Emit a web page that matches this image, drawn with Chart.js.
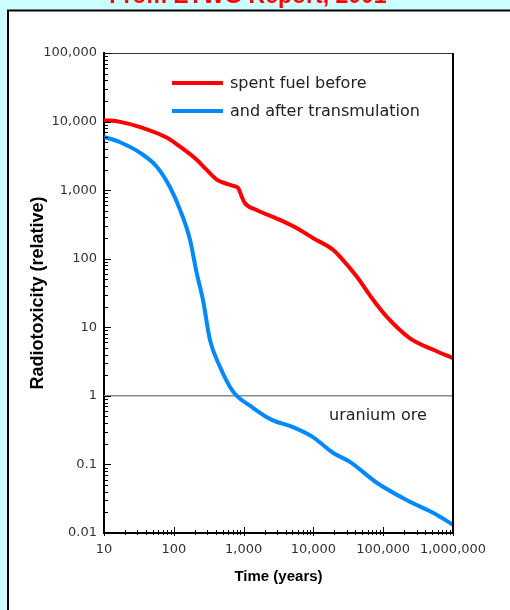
<!DOCTYPE html>
<html>
<head>
<meta charset="utf-8">
<script src="https://cdn.jsdelivr.net/npm/chart.js@4.4.1/dist/chart.umd.min.js"></script>
<style>
  html, body { margin: 0; padding: 0; background: #ccffff; overflow: hidden; }
  #wykres { display: block; }
</style>
</head>
<body>
<canvas id="wykres" width="510" height="610"></canvas>
<script>
'use strict';

/* ----------------------------------------------------------
   DANE
   ---------------------------------------------------------- */

var chartTitle = 'From ETWG Report, 2001';
var xTitle = 'Time (years)';
var yTitle = 'Radiotoxicity (relative)';
var oreLabel = 'uranium ore';

var beforeLabel = 'spent fuel before';
var beforeYears = [10, 17, 33, 80, 123, 215, 296, 418, 512, 713, 840, 940, 1047, 1540, 3320, 6430, 9980, 19300, 24000, 41700, 72100, 112000, 242000, 522000, 1000000];
var beforeValues = [10500, 9900, 8300, 5800, 4300, 2750, 1970, 1410, 1285, 1150, 1067, 803, 644, 514, 368, 263, 199, 134, 107, 55, 25, 14.3, 6.9, 4.7, 3.55];

var afterLabel = 'and after transmulation';
var afterYears = [10, 17, 33, 57, 88, 123, 171, 213, 262, 330, 459, 638, 800, 1230, 2500, 5100, 9860, 19000, 33400, 81000, 219000, 518000, 1000000];
var afterValues = [6000, 5000, 3500, 2200, 1110, 515, 188, 61.5, 25, 6.5, 2.65, 1.35, 1.0, 0.72, 0.45, 0.35, 0.25, 0.148, 0.109, 0.054, 0.030, 0.0197, 0.0132];

var oreYears = [10, 1000000];
var oreValues = [1, 1];

var xTickValues = [10, 100, 1000, 10000, 100000, 1000000];
var xTickLabels = ['10', '100', '1,000', '10,000', '100,000', '1,000,000'];
var yTickValues = [0.01, 0.1, 1, 10, 100, 1000, 10000, 100000];
var yTickLabels = ['0.01', '0.1', '1', '10', '100', '1,000', '10,000', '100,000'];

function toPoints(xs, ys) {
  return xs.map(function (x, i) { return { x: x, y: ys[i] }; });
}

// decades + minor ticks 2..9
function buildLogTicks(values) {
  return function (scale) {
    var t = [];
    for (var i = 0; i < values.length; i++) {
      t.push({ value: values[i], major: true });
      if (i === values.length - 1) break;
      for (var k = 2; k <= 9; k++) t.push({ value: k * values[i], major: false });
    }
    scale.ticks = t;
  };
}

function labelFor(values, labels) {
  return function (value) {
    for (var i = 0; i < values.length; i++) {
      if (Math.abs(values[i] - value) < values[i] * 1e-9) return labels[i];
    }
    return '';
  };
}

/* ----------------------------------------------------------
   PLUGINY: tło, ramka, znaczniki, legenda
   ---------------------------------------------------------- */

var pagePlugin = {
  id: 'page',
  beforeDraw: function (chart) {
    var ctx = chart.ctx;
    ctx.save();
    ctx.fillStyle = '#ccffff';
    ctx.fillRect(0, 0, chart.width, chart.height);
    ctx.fillStyle = '#ffffff';
    ctx.fillRect(8, 10.5, 600, 700);
    ctx.strokeStyle = '#000000';
    ctx.lineWidth = 2;
    ctx.strokeRect(8, 10.5, 600, 700);
    ctx.fillStyle = '#ff0000';
    ctx.font = 'bold 23px "Liberation Sans", Arial, sans-serif';
    ctx.textAlign = 'center';
    ctx.textBaseline = 'alphabetic';
    ctx.fillText(chartTitle, 248, 3);
    ctx.restore();
  },
  afterDraw: function (chart) {
    var ctx = chart.ctx;
    var a = chart.chartArea;
    var xs = chart.scales.x;
    var ys = chart.scales.y;
    ctx.save();

    // top + right frame
    ctx.strokeStyle = '#333333';
    ctx.lineWidth = 1;
    ctx.beginPath();
    ctx.moveTo(a.left, a.top + 0.5);
    ctx.lineTo(a.right, a.top + 0.5);
    ctx.stroke();
    ctx.strokeStyle = '#000000';
    ctx.lineWidth = 2;
    ctx.beginPath();
    ctx.moveTo(a.right, a.top);
    ctx.lineTo(a.right, a.bottom);
    ctx.stroke();

    // inward ticks
    ctx.lineWidth = 1;
    ctx.strokeStyle = '#000000';
    ctx.beginPath();
    xs.ticks.forEach(function (t) {
      var px = Math.round(xs.getPixelForValue(t.value)) + 0.5;
      ctx.moveTo(px, a.bottom + (t.major ? 3 : 2));
      ctx.lineTo(px, a.bottom - (t.major ? 6 : 3));
    });
    ys.ticks.forEach(function (t) {
      var py = Math.round(ys.getPixelForValue(t.value)) + 0.5;
      ctx.moveTo(a.left - 1, py);
      ctx.lineTo(a.left + (t.major ? 7 : 4), py);
    });
    ctx.stroke();

    // uranium ore label
    ctx.fillStyle = '#222222';
    ctx.font = '16px "DejaVu Sans", sans-serif';
    ctx.textAlign = 'left';
    ctx.textBaseline = 'middle';
    ctx.fillText(oreLabel, a.right - 124, ys.getPixelForValue(oreValues[0]) + 20);

    // legend
    var rows = [chart.data.datasets[0], chart.data.datasets[1]];
    rows.forEach(function (ds, i) {
      var ly = a.top + 30 + i * 28;
      ctx.strokeStyle = ds.borderColor;
      ctx.lineWidth = 4;
      ctx.beginPath();
      ctx.moveTo(a.left + 68, ly);
      ctx.lineTo(a.left + 119, ly);
      ctx.stroke();
      ctx.fillText(ds.label, a.left + 126, ly + 1);
    });
    ctx.restore();
  }
};

/* ----------------------------------------------------------
   WYKRES
   ---------------------------------------------------------- */

Chart.defaults.font.family = '"DejaVu Sans", sans-serif';

new Chart(document.getElementById('wykres'), {
  type: 'line',
  data: {
    datasets: [
      { label: beforeLabel, data: toPoints(beforeYears, beforeValues), borderColor: '#ff0000', borderWidth: 4, pointRadius: 0, cubicInterpolationMode: 'monotone', fill: false },
      { label: afterLabel, data: toPoints(afterYears, afterValues), borderColor: '#0088ff', borderWidth: 4, pointRadius: 0, cubicInterpolationMode: 'monotone', fill: false },
      { label: oreLabel, data: toPoints(oreYears, oreValues), borderColor: '#8a8a8a', borderWidth: 1.5, pointRadius: 0, fill: false, order: 3 }
    ]
  },
  options: {
    responsive: false,
    devicePixelRatio: 1,
    animation: false,
    layout: { padding: { left: 0, top: 53, right: 57, bottom: 0 } },
    plugins: { legend: { display: false }, tooltip: { enabled: false } },
    scales: {
      x: {
        type: 'logarithmic',
        min: 10,
        max: 1000000,
        afterBuildTicks: buildLogTicks(xTickValues),
        afterFit: function (s) { s.height = 77; },
        grid: { display: false, drawTicks: false },
        border: { display: true, color: '#000000', width: 2 },
        ticks: {
          autoSkip: false,
          maxRotation: 0,
          padding: 9,
          color: '#333333',
          font: { size: 13 },
          callback: labelFor(xTickValues, xTickLabels)
        },
        title: {
          display: true,
          text: xTitle,
          color: '#000000',
          font: { family: '"Liberation Sans", Arial, sans-serif', size: 15, weight: 'bold', lineHeight: 1.2 },
          padding: { top: 0, bottom: 24 }
        }
      },
      y: {
        type: 'logarithmic',
        min: 0.01,
        max: 100000,
        afterBuildTicks: buildLogTicks(yTickValues),
        afterFit: function (s) { s.width = 104; },
        grid: { display: false, drawTicks: false },
        border: { display: true, color: '#000000', width: 2 },
        ticks: {
          autoSkip: false,
          padding: 7,
          color: '#333333',
          font: { size: 13 },
          callback: labelFor(yTickValues, yTickLabels)
        },
        title: {
          display: true,
          text: yTitle,
          color: '#000000',
          font: { family: '"Liberation Sans", Arial, sans-serif', size: 18, weight: 'bold', lineHeight: 1.2 },
          padding: { top: 27, bottom: 0 }
        }
      }
    }
  },
  plugins: [pagePlugin]
});
</script>
</body>
</html>
